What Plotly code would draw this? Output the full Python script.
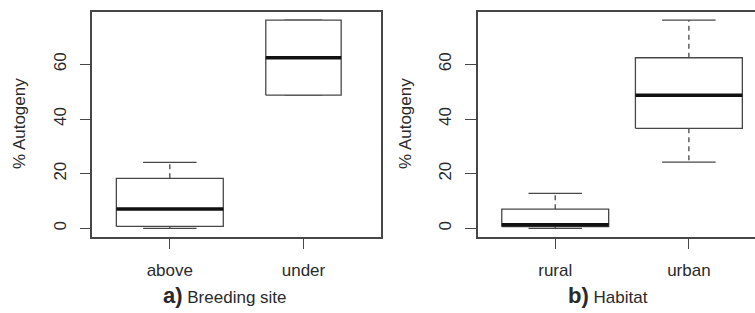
import plotly.graph_objects as go

# ---- data ----
breeding_cats = ["above", "under"]
breeding_lower = [0.0, 48.7]
breeding_q1 = [0.7, 48.7]
breeding_median = [7.1, 62.4]
breeding_q3 = [18.3, 76.2]
breeding_upper = [24.1, 76.2]
breeding_rel_width = [1.0, 0.705]   # varwidth (sqrt of group size, relative)

habitat_cats = ["rural", "urban"]
habitat_lower = [0.0, 24.2]
habitat_q1 = [0.6, 36.6]
habitat_median = [1.3, 48.7]
habitat_q3 = [7.0, 62.4]
habitat_upper = [12.8, 76.2]
habitat_rel_width = [1.0, 1.0]

y_ticks = [0, 20, 40, 60]

W, H = 755, 313
LINE = "#474747"
TEXT = "#2a2a2a"
FONT = "Liberation Sans, Arial, sans-serif"

fig = go.Figure()


def add_boxes(cats, lo, q1, med, q3, hi, relw, xa, ya):
    bx, by, mx, my, wx, wy, cx, cy = [], [], [], [], [], [], [], []
    for i in range(len(cats)):
        c = i + 1
        hw = 0.4 * relw[i]
        bx += [c - hw, c + hw, c + hw, c - hw, c - hw, None]
        by += [q1[i], q1[i], q3[i], q3[i], q1[i], None]
        mx += [c - hw, c + hw, None]
        my += [med[i], med[i], None]
        wx += [c, c, None, c, c, None]
        wy += [q3[i], hi[i], None, q1[i], lo[i], None]
        cx += [c - hw / 2, c + hw / 2, None, c - hw / 2, c + hw / 2, None]
        cy += [hi[i], hi[i], None, lo[i], lo[i], None]
    common = dict(mode="lines", xaxis=xa, yaxis=ya, showlegend=False, hoverinfo="skip")
    fig.add_trace(go.Scatter(x=wx, y=wy, line=dict(color=LINE, width=1.3, dash="5px,4px"), **common))
    fig.add_trace(go.Scatter(x=cx, y=cy, line=dict(color=LINE, width=1.3), **common))
    fig.add_trace(go.Scatter(x=bx, y=by, fill="toself", fillcolor="white",
                             line=dict(color=LINE, width=1.3), **common))
    fig.add_trace(go.Scatter(x=mx, y=my, line=dict(color="#111111", width=3.6), **common))


add_boxes(breeding_cats, breeding_lower, breeding_q1, breeding_median, breeding_q3,
          breeding_upper, breeding_rel_width, "x", "y")
add_boxes(habitat_cats, habitat_lower, habitat_q1, habitat_median, habitat_q3,
          habitat_upper, habitat_rel_width, "x2", "y2")

px_per_unit = (381 - 92.3) / 2.16
ydom = [(H - 236.7) / H, (H - 11.7) / H]
yr = [-3.05, 79.25]

xcommon = dict(showgrid=False, zeroline=False, showline=True, linecolor=LINE, linewidth=1.5,
               ticks="outside", ticklen=11, tickwidth=1.3, tickcolor=LINE,
               tickfont=dict(family=FONT, size=17, color=TEXT), ticklabelstandoff=6,
               tickvals=[1, 2], mirror=True)
ycommon = dict(showgrid=False, zeroline=False, showline=True, linecolor=LINE, linewidth=1.5,
               ticks="outside", ticklen=11, tickwidth=1.3, tickcolor=LINE,
               tickfont=dict(family=FONT, size=17, color=TEXT), tickangle=-90,
               tickvals=y_ticks, ticktext=[str(v) for v in y_ticks], range=yr, domain=ydom,
               ticklabelstandoff=7)

ann_common = dict(xref="paper", yref="paper", showarrow=False, xanchor="center", yanchor="middle",
                  font=dict(family=FONT, size=17, color=TEXT))

fig.update_layout(
    width=W, height=H, margin=dict(l=0, r=0, t=0, b=0),
    paper_bgcolor="white", plot_bgcolor="white",
    xaxis=dict(domain=[92.3 / W, 381 / W], range=[0.42, 2.58], ticktext=breeding_cats, **xcommon),
    yaxis=dict(anchor="x", mirror=True, **ycommon),
    xaxis2=dict(domain=[477.7 / W, 1.0], range=[0.42, 0.42 + (W - 477.7) / px_per_unit],
                ticktext=habitat_cats, anchor="y2", **xcommon),
    yaxis2=dict(anchor="x2", mirror=False, **ycommon),
    annotations=[
        dict(text="% Autogeny", textangle=-90, x=19 / W, y=(H - 124) / H, **ann_common),
        dict(text="% Autogeny", textangle=-90, x=405 / W, y=(H - 124) / H, **ann_common),
        dict(text="<span style='font-size:22px'><b>a)</b></span> Breeding site", x=224.5 / W,
             y=(H - 295) / H, **ann_common),
        dict(text="<span style='font-size:22px'><b>b)</b></span> Habitat", x=608.3 / W,
             y=(H - 295) / H, **ann_common),
    ],
)

fig.write_html("out.html", config={"displayModeBar": False},
               post_script="document.body.style.margin='0';")
